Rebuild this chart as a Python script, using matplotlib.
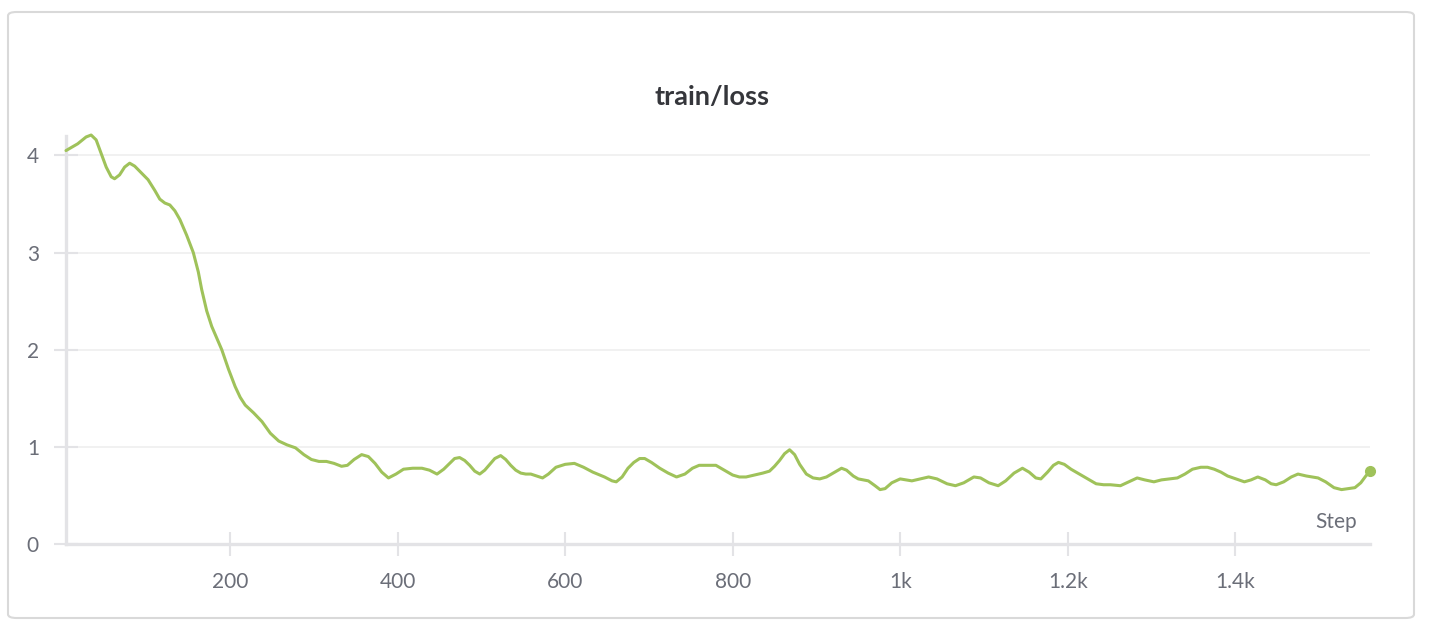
import matplotlib.pyplot as plt
from matplotlib.patches import FancyBboxPatch
from matplotlib.ticker import FixedLocator, FixedFormatter

plt.rcParams['font.family'] = ['Lato', 'DejaVu Sans']

# values
steps = [4, 18, 28, 34, 40, 46, 52, 58, 62, 68, 74, 80, 86, 94, 102, 110, 116, 122, 128,
         134, 140, 148, 156, 162, 166, 172, 178, 184, 190, 198, 206, 212, 218, 228, 238,
         248, 258, 268, 278, 288, 297, 306, 315, 324, 333, 340, 348, 357, 365, 373, 381,
         389, 398, 407, 418, 429, 438, 447, 455, 462, 468, 474, 480, 486, 492, 498, 504,
         509, 516, 523, 529, 535, 541, 547, 553, 559, 566, 573, 580, 589, 600, 611, 622,
         633, 647, 656, 661, 668, 675, 682, 689, 695, 703, 713, 723, 733, 743, 752, 760,
         770, 780, 790, 800, 808, 816, 826, 836, 844, 850, 856, 862, 868, 874, 880, 888,
         896, 904, 912, 920, 930, 936, 944, 950, 962, 970, 976, 982, 990, 1000, 1014,
         1024, 1034, 1044, 1056, 1066, 1076, 1088, 1096, 1106, 1117, 1126, 1136, 1146,
         1154, 1162, 1168, 1176, 1183, 1189, 1196, 1204, 1212, 1222, 1234, 1243, 1251,
         1263, 1273, 1283, 1292, 1303, 1312, 1322, 1331, 1340, 1349, 1359, 1367, 1375,
         1383, 1391, 1401, 1411, 1419, 1427, 1436, 1443, 1449, 1458, 1467, 1475, 1485,
         1499, 1508, 1518, 1527, 1535, 1543, 1550, 1556, 1561]
loss = [4.05, 4.12, 4.19, 4.21, 4.16, 4.02, 3.88, 3.78, 3.76, 3.80, 3.88, 3.92, 3.89,
        3.82, 3.75, 3.64, 3.55, 3.51, 3.49, 3.43, 3.34, 3.18, 3.00, 2.80, 2.62, 2.40,
        2.24, 2.12, 2.00, 1.80, 1.62, 1.51, 1.43, 1.35, 1.26, 1.14, 1.06, 1.02, 0.99,
        0.92, 0.87, 0.85, 0.85, 0.83, 0.80, 0.81, 0.87, 0.92, 0.90, 0.83, 0.74, 0.68,
        0.72, 0.77, 0.78, 0.78, 0.76, 0.72, 0.77, 0.83, 0.88, 0.89, 0.86, 0.81, 0.75,
        0.72, 0.76, 0.81, 0.88, 0.91, 0.87, 0.81, 0.76, 0.73, 0.72, 0.72, 0.70, 0.68,
        0.72, 0.79, 0.82, 0.83, 0.79, 0.74, 0.69, 0.65, 0.64, 0.69, 0.78, 0.84, 0.88,
        0.88, 0.84, 0.78, 0.73, 0.69, 0.72, 0.78, 0.81, 0.81, 0.81, 0.76, 0.71, 0.69,
        0.69, 0.71, 0.73, 0.75, 0.80, 0.86, 0.93, 0.97, 0.92, 0.82, 0.72, 0.68, 0.67,
        0.69, 0.73, 0.78, 0.76, 0.70, 0.67, 0.65, 0.60, 0.56, 0.57, 0.63, 0.67, 0.65,
        0.67, 0.69, 0.67, 0.62, 0.60, 0.63, 0.69, 0.68, 0.63, 0.60, 0.65, 0.73, 0.78,
        0.74, 0.68, 0.67, 0.74, 0.81, 0.84, 0.82, 0.77, 0.73, 0.68, 0.62, 0.61, 0.61,
        0.60, 0.64, 0.68, 0.66, 0.64, 0.66, 0.67, 0.68, 0.72, 0.77, 0.79, 0.79, 0.77,
        0.74, 0.70, 0.67, 0.64, 0.66, 0.69, 0.66, 0.62, 0.61, 0.64, 0.69, 0.72, 0.70,
        0.68, 0.64, 0.58, 0.56, 0.57, 0.58, 0.63, 0.70, 0.75]
xtick_vals = [200, 400, 600, 800, 1000, 1200, 1400]
xtick_labels = ['200', '400', '600', '800', '1k', '1.2k', '1.4k']
ytick_vals = [0, 1, 2, 3, 4]

line_col = '#9fc25a'
axis_col = '#e3e3e6'
text_col = '#6b6e78'

fig = plt.figure(figsize=(14.3, 6.3), dpi=100)
fig.patch.set_facecolor('white')

# card border
card = FancyBboxPatch((8 / 1430, 12 / 630), 1406 / 1430, 606 / 630,
                      boxstyle='round,pad=0,rounding_size=0.006',
                      transform=fig.transFigure, facecolor='none',
                      edgecolor='#d9d9d9', linewidth=1.5, zorder=-1)
fig.patches.append(card)

ax = fig.add_axes([66 / 1430, 1 - 544 / 630, (1370 - 66) / 1430, (544 - 136) / 630])
ax.set_facecolor('none')

ax.plot(steps, loss, color=line_col, linewidth=2.2, solid_capstyle='round',
        solid_joinstyle='round', zorder=3, clip_on=False)
ax.plot(steps[-1], loss[-1], 'o', color=line_col, markersize=7, zorder=4, clip_on=False)

ax.set_xlim(4, 1561)
ax.set_ylim(0, 4.2)

ax.xaxis.set_major_locator(FixedLocator(xtick_vals))
ax.xaxis.set_major_formatter(FixedFormatter(xtick_labels))
ax.set_yticks(ytick_vals)
ax.set_yticklabels([str(v) for v in ytick_vals])

for side in ['top', 'right']:
    ax.spines[side].set_visible(False)
for side in ['left', 'bottom']:
    ax.spines[side].set_color(axis_col)
    ax.spines[side].set_linewidth(2.4)

ax.tick_params(axis='both', direction='inout', length=17, width=1.5, color=axis_col,
               labelcolor=text_col, labelsize=15)
ax.tick_params(axis='x', pad=12)
ax.tick_params(axis='y', pad=11)

ax.yaxis.grid(True, color='#efefef', linewidth=1.2)
ax.set_axisbelow(True)

ax.text(0.99, 0.03, 'Step', transform=ax.transAxes, ha='right', va='bottom',
        fontsize=15, color=text_col)

fig.text(0.498, 1 - 97 / 630, 'train/loss', ha='center', va='center',
         fontsize=19.5, fontweight='bold', color='#35363b')

fig.savefig('out.png', dpi=100)
